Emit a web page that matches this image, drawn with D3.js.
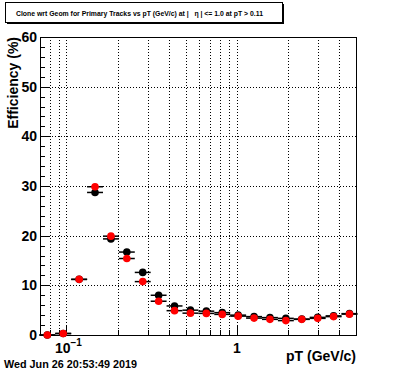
<!DOCTYPE html>
<html>
<head>
<meta charset="UTF-8" />
<style>
  body { margin: 0; background: #fff; }
  svg text { font-family: "Liberation Sans", Arial, sans-serif; font-weight: bold; white-space: pre; }
</style>
</head>
<body>
<div id="chart"></div>
<script src="https://d3js.org/d3.v7.min.js"></script>
<script>
// bin centres (GeV/c) and efficiencies (%)
const pT = [0.0773, 0.0958, 0.1188, 0.1472, 0.1825, 0.2262, 0.2804, 0.3476, 0.4309, 0.5341,
            0.6622, 0.8209, 1.0176, 1.2615, 1.5638, 1.9387, 2.4033, 2.9793, 3.6933, 4.5785];
const effBlack = [0.0, 0.3, 11.2, 28.7, 19.35, 16.7, 12.6, 8.0, 5.85, 5.0,
                  4.8, 4.5, 4.0, 3.7, 3.5, 3.35, 3.2, 3.55, 3.85, 4.3];
const effRed   = [0.0, 0.3, 11.2, 29.85, 19.9, 15.4, 10.75, 6.8, 4.9, 4.4,
                  4.35, 4.15, 3.8, 3.4, 3.15, 2.9, 3.15, 3.35, 3.7, 4.2];
const yTicks = [0, 10, 20, 30, 40, 50, 60];
const xMinor = [0.08, 0.09, 0.2, 0.3, 0.4, 0.5, 0.6, 0.7, 0.8, 0.9, 2, 3, 4];
const xMajor = [0.1, 1];

const width = 396, height = 372;
const padL = 40, padR = 356, padT = 37, padB = 335;

const svg = d3.select('#chart').append('svg')
  .attr('width', width).attr('height', height);

const x = d3.scaleLog().domain([0.07, 5.0]).range([padL, padR]);
const y = d3.scaleLinear().domain([0, 60]).range([padB, padT]);

// grid
const grid = svg.append('g').attr('stroke', '#000').attr('stroke-width', 1)
  .attr('stroke-dasharray', '1,2');
grid.selectAll('.gx').data(xMinor.concat(xMajor)).enter().append('line')
  .attr('x1', d => Math.round(x(d)) + 0.5).attr('x2', d => Math.round(x(d)) + 0.5)
  .attr('y1', padT).attr('y2', padB);
grid.selectAll('.gy').data(yTicks.slice(1, -1)).enter().append('line')
  .attr('x1', padL).attr('x2', padR)
  .attr('y1', d => Math.round(y(d)) + 0.5).attr('y2', d => Math.round(y(d)) + 0.5);

// frame
svg.append('rect').attr('x', padL + 0.5).attr('y', padT + 0.5)
  .attr('width', padR - padL).attr('height', padB - padT)
  .attr('fill', 'none').attr('stroke', '#000').attr('stroke-width', 1);

// y axis ticks
const yMinor = d3.range(0, 61, 2);
svg.append('g').selectAll('line').data(yMinor).enter().append('line')
  .attr('x1', padL).attr('x2', d => padL + (d % 10 === 0 ? 10 : 5))
  .attr('y1', d => Math.round(y(d)) + 0.5).attr('y2', d => Math.round(y(d)) + 0.5)
  .attr('stroke', '#000');
svg.append('g').selectAll('text').data(yTicks).enter().append('text')
  .attr('x', 37).attr('y', d => y(d) + 5)
  .attr('text-anchor', 'end').attr('font-size', 14).text(d => d);

// x axis ticks
svg.append('g').selectAll('line').data(xMinor.concat(xMajor)).enter().append('line')
  .attr('x1', d => Math.round(x(d)) + 0.5).attr('x2', d => Math.round(x(d)) + 0.5)
  .attr('y1', padB).attr('y2', d => padB - (xMajor.includes(d) ? 9 : 5))
  .attr('stroke', '#000');
const lbl = svg.append('text').attr('x', x(0.1) + 2).attr('y', 353)
  .attr('text-anchor', 'middle').attr('font-size', 14);
lbl.append('tspan').text('10');
lbl.append('tspan').attr('font-size', 10).attr('dy', -7).text('\u22121');
svg.append('text').attr('x', x(1)).attr('y', 353)
  .attr('text-anchor', 'middle').attr('font-size', 14).text('1');

// axis titles
svg.append('text').attr('x', padR).attr('y', 361)
  .attr('text-anchor', 'end').attr('font-size', 14).text('pT (GeV/c)');
svg.append('text').attr('transform', 'translate(18,' + padT + ') rotate(-90)')
  .attr('text-anchor', 'end').attr('font-size', 14).text('Efficiency (%)');

// data series
function drawSeries(vals, color) {
  const g = svg.append('g');
  const f = Math.pow(10, 0.0467);
  g.selectAll('line').data(pT).enter().append('line')
    .attr('x1', d => x(d / f)).attr('x2', d => x(d * f))
    .attr('y1', (d, i) => y(vals[i])).attr('y2', (d, i) => y(vals[i]))
    .attr('stroke', '#000').attr('stroke-width', 1.5);
  g.selectAll('circle').data(pT).enter().append('circle')
    .attr('cx', d => x(d)).attr('cy', (d, i) => y(vals[i]))
    .attr('r', 3.8).attr('fill', color);
}
drawSeries(effBlack, '#000');
drawSeries(effRed, '#ff0000');

// title box
svg.append('rect').attr('x', 7).attr('y', 4).attr('width', 277).attr('height', 20)
  .attr('fill', '#000');
svg.append('rect').attr('x', 5.5).attr('y', 2.5).attr('width', 277).attr('height', 20)
  .attr('fill', '#fff').attr('stroke', '#000');
svg.append('text').attr('x', 16).attr('y', 16)
  .attr('font-size', 7.2).attr('textLength', 247).attr('lengthAdjust', 'spacingAndGlyphs')
  .text('Clone wrt Geom for Primary Tracks vs pT (GeV/c) at |   \u03b7 | <= 1.0 at pT > 0.11');

// date stamp
svg.append('text').attr('x', 4).attr('y', 368).attr('font-size', 10.8)
  .text('Wed Jun 26 20:53:49 2019');
</script>
</body>
</html>
